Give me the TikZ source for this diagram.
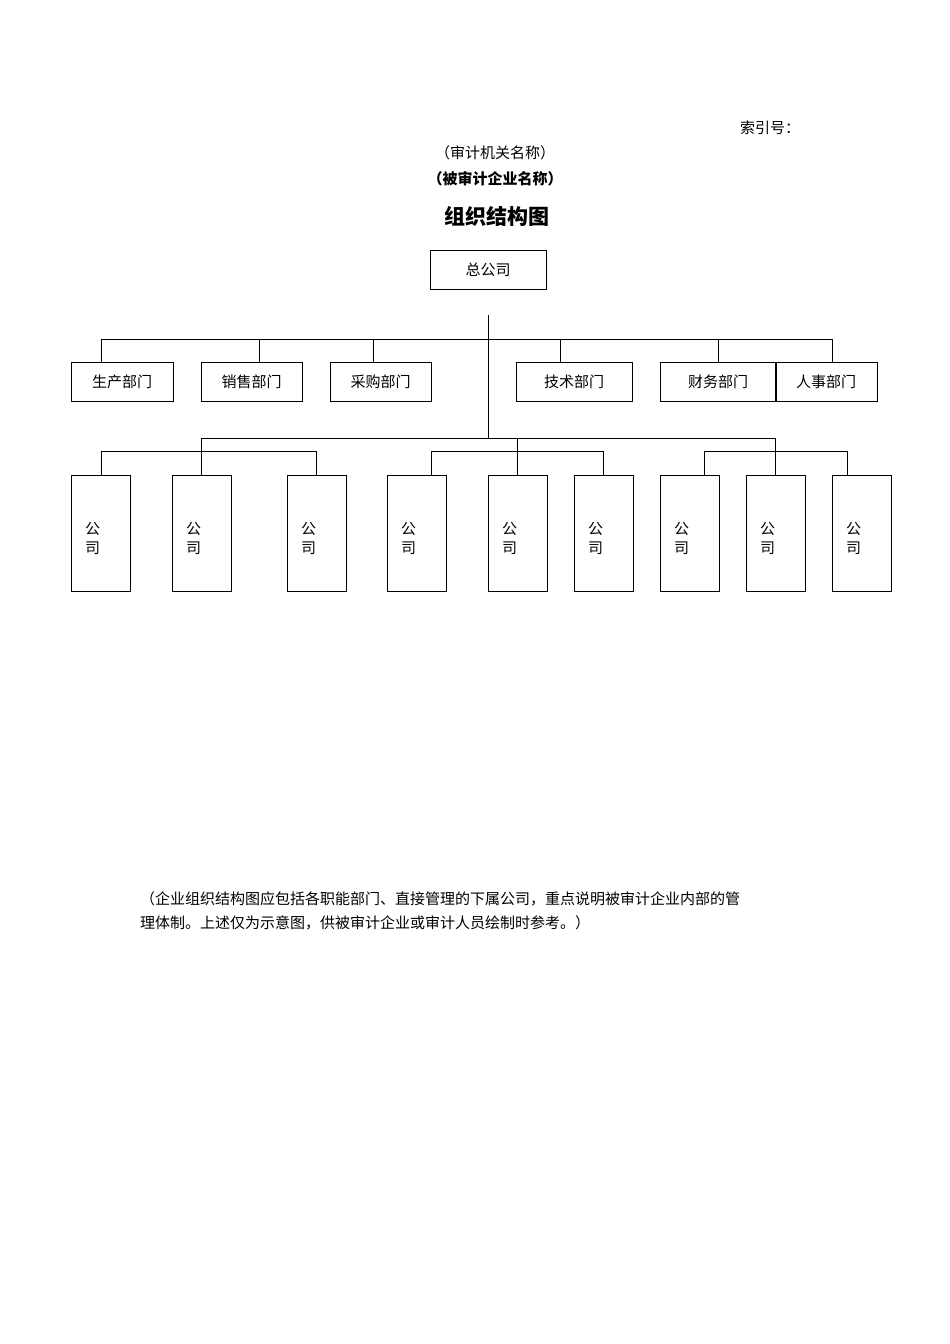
\documentclass[tikz,border=0pt]{standalone}
\usepackage{fontspec}
\setmainfont{Noto Sans CJK SC}
\tikzset{
  dept/.style={draw,minimum height=39pt,inner sep=0pt,font=\fontsize{15}{18}\selectfont},
  firm/.style={draw,minimum width=59pt,minimum height=116pt,inner sep=0pt},
  plain/.style={font=\fontsize{15}{18}\selectfont,inner sep=0pt}
}
\begin{document}
\begin{tikzpicture}[x=1pt,y=-1pt]
  \useasboundingbox (0,0) rectangle (950,1344);
  \node [plain,anchor=west] (index) at (740,128) {索引号：};
  \node [plain] (auditor) at (495,153) {（审计机关名称）};
  \node [plain,font=\fontsize{15}{18}\bfseries] (client) at (495,179) {（被审计企业名称）};
  \node [plain,font=\fontsize{21}{24}\bfseries] (title) at (497,216) {组织结构图};
  \node [dept,minimum width=116pt] (hq) at (488,270) {总公司};
  % departments
  \node [dept,minimum width=102pt] (prod) at (122,382) {生产部门};
  \node [dept,minimum width=101pt] (sales) at (251.5,382) {销售部门};
  \node [dept,minimum width=101pt] (purch) at (380.5,382) {采购部门};
  \node [dept,minimum width=116pt] (tech) at (574,382) {技术部门};
  \node [dept,minimum width=116pt] (fin) at (718,382) {财务部门};
  \node [dept,minimum width=102pt] (hr) at (826,382) {人事部门};
  \draw (488,315) -- (488,438);
  \draw (101,339) -- (832,339);
  \foreach \x/\n in {101/prod,259/sales,373/purch,560/tech,718/fin,832/hr}
    \draw (\x,339) -- (\n.north -| \x,0);
  % companies
  \foreach \x [count=\i] in {100.5,201.5,316.5,416.5,517.5,603.5,689.5,775.5,861.5}
    \node [firm] (co\i) at (\x,533) {};
  \foreach \i in {1,...,9}
    \node [plain,anchor=north west,align=left] at ([shift={(14,47)}]co\i.north west) {公\\[1pt]司};
  \draw (201,438) -- (775,438);
  \draw (101,451) -- (316,451);
  \draw (431,451) -- (603,451);
  \draw (704,451) -- (847,451);
  \draw (201,438) -- (co2.north -| 201,0);
  \draw (517,438) -- (co5.north -| 517,0);
  \draw (775,438) -- (co8.north -| 775,0);
  \foreach \x/\n in {101/co1,316/co3,431/co4,603/co6,704/co7,847/co9}
    \draw (\x,451) -- (\n.north -| \x,0);
  \node [plain,anchor=north west,align=left] (note) at (140,891)
    {（企业组织结构图应包括各职能部门、直接管理的下属公司，重点说明被审计企业内部的管\\[6pt]理体制。上述仅为示意图，供被审计企业或审计人员绘制时参考。）};
\end{tikzpicture}
\end{document}
